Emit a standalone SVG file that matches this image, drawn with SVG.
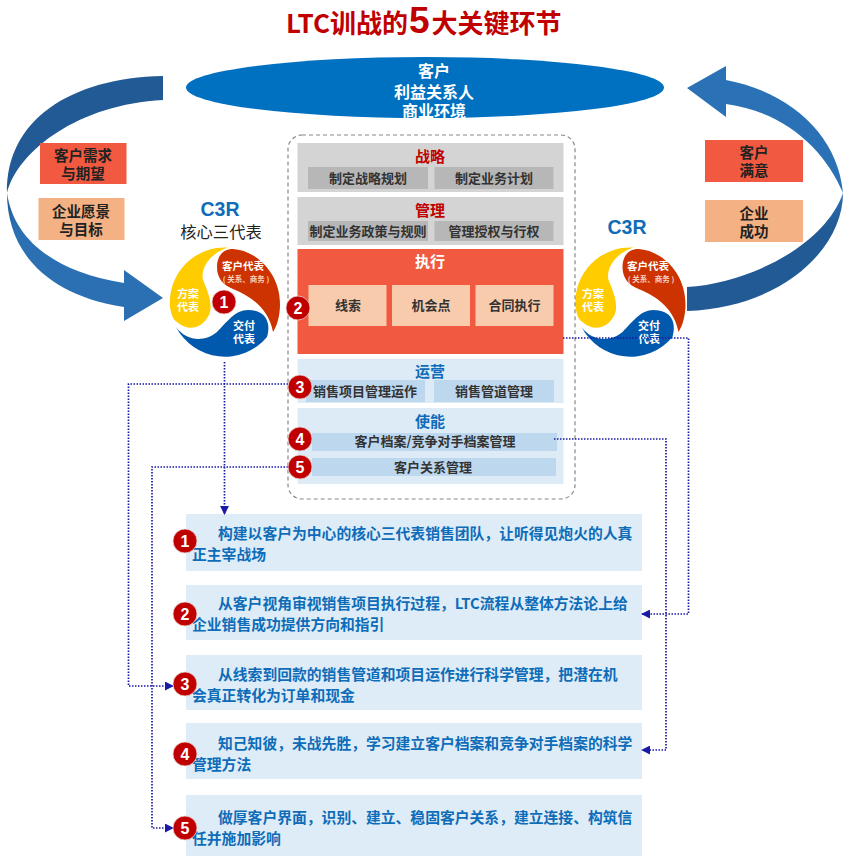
<svg xmlns="http://www.w3.org/2000/svg" width="850" height="862" viewBox="0 0 850 862">
<style>
text{font-family:"Noto Sans CJK SC","Noto Sans",sans-serif;font-weight:700;text-anchor:middle;dominant-baseline:central}
.dark{fill:#222}.mid{fill:#333;font-size:13px}.w{fill:#fff}
.t15{font-size:14.500px}.tb{font-size:11px}.tc{font-size:10.500px}
.red{fill:#c00000}.blue{fill:#0e6cb8}
.lay{fill:#d4d4d4}.sub{fill:#b7b7b7}.lb{fill:#ddebf7}.sb{fill:#bdd7ee}.pe{fill:#f7cbac}.or{fill:#f15a40}.ta{fill:#f4b183}
.card{fill:#deecf7}
.cardt{fill:#0e6cb8;font-size:14.800px;text-anchor:start}
.b{fill:#c00000;stroke:#e9d4d4;stroke-width:.8}
.bt{fill:#fff;font-size:16px;font-family:"Liberation Sans",sans-serif}
.con{fill:none;stroke:#1a1aa6;stroke-width:1.700;stroke-dasharray:1.500 1.500}
</style>
<defs>
<linearGradient id="gl" x1="0" y1="0" x2="0" y2="1"><stop offset="0" stop-color="#215a94"/><stop offset=".3" stop-color="#2a70b2"/></linearGradient>
<linearGradient id="gr2" x1="0" y1="0" x2="0" y2="1"><stop offset="0" stop-color="#2a6fb0"/><stop offset=".3" stop-color="#215a94"/></linearGradient>
<marker id="ah" markerUnits="userSpaceOnUse" viewBox="0 0 10 10" refX="9" refY="5" markerWidth="9" markerHeight="9" orient="auto"><path d="M0,0 L10,5 L0,10 Z" fill="#1a1aa6"/></marker>
<g id="tri">
<path d="M3,-54.500 A55,55 0 0 0 -55,5 C-54,12 -52,18 -48,20 C-38,29 -24,28 -16,13 C-12,4 -16,-8 -22,-22 C-25,-36 -12,-50 3,-54.500 Z" fill="#ffcc00"/>
<path d="M-8,-35 C-8,-46 -2,-53 8,-53 C30,-52 55,-30 55,2 C55,14 52,24 48,30 C44,8 28,-5 8,-13 C-2,-17 -8,-24 -8,-35 Z" fill="#cc3300"/>
<path d="M-49,25 A55,55 0 0 0 42,35 C46,22 42,8 23,8 C10,8 2,20 -8,30 C-20,40 -38,40 -49,25 Z" fill="#0059ac"/>
</g>
</defs>

<g id="title"><text x="286" y="33" font-size="26" fill="#c00000" style="text-anchor:start;dominant-baseline:auto">LTC训战的<tspan font-size="37" dx="1" style="font-family:'Liberation Sans',sans-serif">5</tspan><tspan dx="2">大关键环节</tspan></text></g>

<g id="customer"><ellipse cx="425" cy="87.500" rx="239" ry="30.500" fill="#0070c0"/>
<text class="w" font-size="16" x="434" y="70">客户</text><text class="w" font-size="16" x="434" y="90.500">利益关系人</text><text class="w" font-size="16" x="434" y="110">商业环境</text></g>

<g id="arrow-left">
<path d="M163,76 C70,78 6,120 7,193 C18,150 80,104 163,100 Z" fill="#215a94"/>
<path d="M7,193 C7,250 45,295 124,307 V321 L163,298 L124,270 V283 C55,272 14,240 7,193 Z" fill="url(#gl)"/>
</g>
<g id="arrow-right">
<path d="M687,88 L726,66 V80 C790,92 838,135 843,193 C825,150 785,112 726,104 V117 Z" fill="#2a72b5"/>
<path d="M843,193 C843,250 780,308 687,311 V287 C750,283 825,245 843,193 Z" fill="url(#gr2)"/>
</g>

<g id="need"><rect x="40" y="143" width="86.500" height="41" class="or"/><text class="dark t15" x="83" y="154">客户需求</text><text class="dark t15" x="83" y="172">与期望</text></g>
<g id="vision"><rect x="38.500" y="198" width="86" height="42" class="ta"/><text class="dark t15" x="81" y="210">企业愿景</text><text class="dark t15" x="81" y="228">与目标</text></g>
<g id="satisfaction"><rect x="705" y="140" width="98" height="42" class="or"/><text class="dark t15" x="754" y="151">客户</text><text class="dark t15" x="754" y="169">满意</text></g>
<g id="success"><rect x="705" y="200" width="98" height="42" class="ta"/><text class="dark t15" x="754" y="212">企业</text><text class="dark t15" x="754" y="230">成功</text></g>

<g id="c3r-left">
<text class="blue" font-size="19.500" x="220" y="209" style="font-family:'Liberation Sans',sans-serif">C3R</text>
<text x="221" y="230.500" font-size="16.300" fill="#222" style="font-weight:400">核心三代表</text>
<use href="#tri" x="225" y="302"/>
<text class="w tc" x="243" y="265.500">客户代表</text><text x="246" y="278" font-size="7.500" fill="#f5d0c0">( 关系、商务 )</text>
<text class="w tb"><tspan x="188" y="293">方案</tspan><tspan x="188" y="305.500">代表</tspan></text>
<text class="w tb"><tspan x="244" y="324.500">交付</tspan><tspan x="244" y="337.500">代表</tspan></text>
</g>
<g id="c3r-right">
<text class="blue" font-size="19.500" x="627" y="227" style="font-family:'Liberation Sans',sans-serif">C3R</text>
<use href="#tri" x="630.500" y="302"/>
<text class="w tc" x="648" y="265.500">客户代表</text><text x="651" y="278" font-size="7.500" fill="#f5d0c0">( 关系、商务 )</text>
<text class="w tb"><tspan x="593" y="293">方案</tspan><tspan x="593" y="305.500">代表</tspan></text>
<text class="w tb"><tspan x="649" y="324.500">交付</tspan><tspan x="649" y="337.500">代表</tspan></text>
</g>

<g id="frame"><rect x="288" y="135" width="287" height="364" rx="14" fill="none" stroke="#888" stroke-width="1.200" stroke-dasharray="4 3"/></g>

<g id="strategy"><rect x="297.500" y="143" width="266" height="49" class="lay"/><text class="red" font-size="15" x="430" y="155.500">战略</text>
<rect x="308" y="167" width="120" height="22" class="sub"/><text class="mid" x="368" y="177">制定战略规划</text>
<rect x="434.500" y="167" width="119" height="22" class="sub"/><text class="mid" x="494" y="177">制定业务计划</text></g>
<g id="management"><rect x="297.500" y="197" width="266" height="48" class="lay"/><text class="red" font-size="15" x="430" y="209">管理</text>
<rect x="308" y="221" width="120" height="20" class="sub"/><text class="mid" x="368" y="230">制定业务政策与规则</text>
<rect x="434.500" y="221" width="119" height="20" class="sub"/><text class="mid" x="494" y="230">管理授权与行权</text></g>
<g id="execution"><rect x="297.500" y="249" width="266" height="105" class="or"/><text class="w" font-size="15" x="430" y="260.500">执行</text>
<rect x="308.500" y="285" width="78" height="41" class="pe"/><text class="mid" x="348" y="304.500">线索</text>
<rect x="392" y="285" width="78" height="41" class="pe"/><text class="mid" x="431" y="304.500">机会点</text>
<rect x="475.500" y="285" width="78" height="41" class="pe"/><text class="mid" x="514.500" y="304.500">合同执行</text></g>
<g id="operations"><rect x="297.500" y="359" width="266" height="44" class="lb"/><text class="blue" font-size="15" x="430" y="370">运营</text>
<rect x="306" y="380" width="119" height="22" class="sb"/><text class="mid" x="365" y="390">销售项目管理运作</text>
<rect x="434" y="380" width="120" height="22" class="sb"/><text class="mid" x="494" y="390">销售管道管理</text></g>
<g id="enablement"><rect x="297.500" y="408" width="266" height="76" class="lb"/><text class="blue" font-size="15" x="430" y="420">使能</text>
<rect x="312" y="433" width="245" height="18" class="sb"/><text class="mid" x="435" y="440.500">客户档案/竞争对手档案管理</text>
<rect x="312" y="458" width="244" height="18" class="sb"/><text class="mid" x="433" y="466">客户关系管理</text></g>

<g id="cards">
<rect x="186" y="514" width="456" height="57" class="card"/>
<rect x="186" y="585" width="456" height="55" class="card"/>
<rect x="186" y="655" width="456" height="55" class="card"/>
<rect x="186" y="723" width="456" height="56" class="card"/>
<rect x="186" y="795" width="456" height="61" class="card"/>
<text class="cardt" x="218" y="532">构建以客户为中心的核心三代表销售团队，让听得见炮火的人真</text><text class="cardt" x="192" y="553">正主宰战场</text>
<text class="cardt" x="218" y="602">从客户视角审视销售项目执行过程，LTC流程从整体方法论上给</text><text class="cardt" x="192" y="623">企业销售成功提供方向和指引</text>
<text class="cardt" x="218" y="673">从线索到回款的销售管道和项目运作进行科学管理，把潜在机</text><text class="cardt" x="192" y="694">会真正转化为订单和现金</text>
<text class="cardt" x="218" y="742">知己知彼，未战先胜，学习建立客户档案和竞争对手档案的科学</text><text class="cardt" x="192" y="763">管理方法</text>
<text class="cardt" x="218" y="816">做厚客户界面，识别、建立、稳固客户关系，建立连接、构筑信</text><text class="cardt" x="192" y="837">任并施加影响</text>
</g>

<g id="connectors">
<path class="con" marker-end="url(#ah)" d="M224.500,362 V514"/>
<path class="con" marker-end="url(#ah)" d="M288,384 H128.500 V686 H173"/>
<path class="con" marker-end="url(#ah)" d="M288,467 H152 V828 H173"/>
<path class="con" marker-end="url(#ah)" d="M563,338 H688.500 V614 H642"/>
<path class="con" marker-end="url(#ah)" d="M554,439 H666 V750 H642"/>
</g>

<g id="badges">
<circle class="b" cx="224" cy="302" r="12"/><text class="bt" x="224" y="302">1</text>
<circle class="b" cx="298" cy="308" r="12"/><text class="bt" x="298" y="308">2</text>
<circle class="b" cx="300" cy="387" r="12"/><text class="bt" x="300" y="387">3</text>
<circle class="b" cx="300" cy="439" r="12"/><text class="bt" x="300" y="439">4</text>
<circle class="b" cx="300" cy="467" r="12"/><text class="bt" x="300" y="467">5</text>
<circle class="b" cx="185" cy="541" r="12"/><text class="bt" x="185" y="541">1</text>
<circle class="b" cx="185" cy="614" r="12"/><text class="bt" x="185" y="614">2</text>
<circle class="b" cx="185" cy="684" r="12"/><text class="bt" x="185" y="684">3</text>
<circle class="b" cx="185" cy="754" r="12"/><text class="bt" x="185" y="754">4</text>
<circle class="b" cx="185" cy="828" r="12"/><text class="bt" x="185" y="828">5</text>
</g>
</svg>
